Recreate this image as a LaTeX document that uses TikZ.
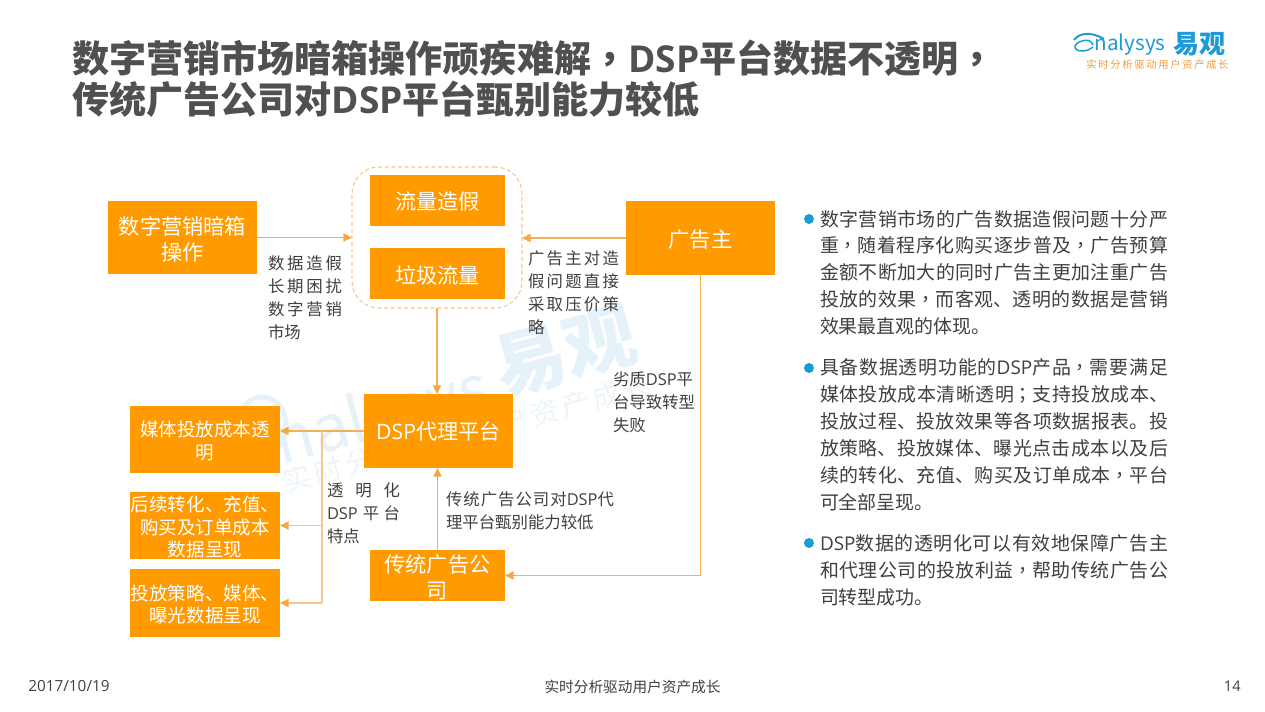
\documentclass[tikz,border=0pt]{standalone}
\usepackage{fontspec}
\usetikzlibrary{arrows.meta,calc}
\setmainfont{Noto Sans CJK SC}
\newfontfamily\lat{Open Sans}
\newfontfamily\tcf{Noto Sans CJK TC}
\newcommand\cm{{\tcf ，}}
\newcommand\sm{{\tcf ；}}
\newcommand\dn[1]{\raisebox{-1.1pt}[\height][\depth]{#1}}
\XeTeXlinebreaklocale "zh"
\XeTeXlinebreakskip=0pt plus 4pt
\tolerance=9999 \hbadness=10000 \hfuzz=3pt
\definecolor{boxc}{HTML}{FF9A00}
\definecolor{linec}{HTML}{F6AE55}
\definecolor{busc}{HTML}{F9C78C}
\definecolor{tipc}{HTML}{F6A83F}
\definecolor{txt}{HTML}{404040}
\definecolor{ttl}{HTML}{505050}
\definecolor{wm}{HTML}{E6F2FA}
\definecolor{wmt}{HTML}{EEF5FA}
\definecolor{logob}{HTML}{1E9AD6}
\definecolor{logoo}{HTML}{F39C3C}
\tikzset{
  x=0.75pt,y=-0.75pt,
  obox/.style={fill=boxc,inner sep=0pt,outer sep=0pt,text=white,align=center},
  big/.style={font=\fontsize{15.9}{19.5}\selectfont},
  small/.style={font=\fontsize{13.9}{17.2}\selectfont},
  arr/.style={draw=linec,line width=1.1pt,-{Triangle[length=6.5pt,width=6pt,color=tipc]}},
  brarr/.style={draw=busc,line width=1.3pt,-{Triangle[length=6.5pt,width=6pt,color=tipc]}},
  plain/.style={draw=busc,line width=1.5pt},
  lbl/.style={anchor=north west,inner sep=0pt,outer sep=0pt,text=txt,align=justify,font=\fontsize{12.3}{17.3}\selectfont},
  para/.style={anchor=north west,inner sep=0pt,outer sep=0pt,text=txt,align=justify,text width=261pt,font=\fontsize{14.2}{20.2}\selectfont},
  dotb/.style={circle,fill=logob,inner sep=0pt,minimum size=7.5pt},
  title/.style={anchor=west,inner sep=0pt,text=ttl,font=\fontsize{27.8}{30}\selectfont\bfseries},
  foot/.style={inner sep=0pt,text=txt,font=\fontsize{11}{13}\selectfont},
  water/.style={inner sep=0pt,text=wm,rotate=15}
}
\begin{document}
\begin{tikzpicture}
\useasboundingbox (0,0) rectangle (1265,712);
\fill[white] (0,0) rectangle (1265,712);
% watermark
\draw[wm,line width=4pt] (262,425) ellipse (24 and 28);
\node[water,font=\fontsize{48}{52}\selectfont\itshape] (wm1) at (383,419) {nalysys};
\node[water,font=\fontsize{54}{60}\selectfont\bfseries] (wm2) at (565,352) {易观};
\node[water,text=wmt,font=\fontsize{21}{26}\selectfont] (wm3) at (467,433) {实\kern3pt 时\kern3pt 分\kern3pt 析\kern3pt 驱\kern3pt 动\kern3pt 用\kern3pt 户\kern3pt 资\kern3pt 产\kern3pt 成\kern3pt 长};
% title
\node[title] (t1) at (72,58) {数字营销市场暗箱操作顽疾难解{\tcf\bfseries ，}{\lat\bfseries DSP}平台数据不透明{\tcf\bfseries ，}};
\node[title] (t2) at (72,99) {传统广告公司对{\lat\bfseries DSP}平台甄别能力较低};
% logo
\draw[logob,line width=1.1pt] (1093,45) .. controls (1090,36) and (1076,42) .. (1075,46) .. controls (1074,52) and (1086,53) .. (1093,47);
\draw[logob,line width=1.5pt] (1074,40) .. controls (1080,32) and (1092,32) .. (1104,39);
\node[inner sep=0pt,text=logob,font=\fontsize{15.5}{17}\selectfont\itshape] (lg1) at (1130,45) {nalysys};
\node[inner sep=0pt,text=logob,font=\fontsize{19.5}{21}\selectfont\bfseries] (lg2) at (1199.5,44.5) {易观};
\node[inner sep=0pt,text=logoo,font=\fontsize{7.7}{9}\selectfont] (lg3) at (1157.5,65) {实\,时\,分\,析\,驱\,动\,用\,户\,资\,产\,成\,长};
% boxes
\node[obox,big,minimum width=149*0.75pt,minimum height=73*0.75pt] (mkt) at (182.5,237.5) {\dn{数字营销暗箱}\\\dn{操作}};
\node[draw=busc,dashed,dash pattern=on 3pt off 2pt,line width=0.8pt,rounded corners=20pt,inner sep=0pt,outer sep=0pt,minimum width=170*0.75pt,minimum height=141*0.75pt] (cloud) at (437,237.5) {};
\node[obox,big,minimum width=135*0.75pt,minimum height=51*0.75pt] (fake) at (437.5,200.5) {\dn{流量造假}};
\node[obox,big,minimum width=135*0.75pt,minimum height=51*0.75pt] (junk) at (437.5,273.5) {\dn{垃圾流量}};
\node[obox,big,minimum width=149*0.75pt,minimum height=74*0.75pt] (adv) at (700.5,238) {\dn{广告主}};
\node[obox,big,minimum width=149*0.75pt,minimum height=74*0.75pt] (dsp) at (438.5,431) {{\lat DSP}代理平台};
\node[obox,small,minimum width=150*0.75pt,minimum height=67*0.75pt] (media) at (205,439.5) {\dn{媒体投放成本透}\\\dn{明}};
\node[obox,small,minimum width=150*0.75pt,minimum height=67*0.75pt] (hq) at (205,525.5) {\dn{后续转化、充值、}\\\dn{购买及订单成本}\\\dn{数据呈现}};
\node[obox,small,minimum width=150*0.75pt,minimum height=68*0.75pt] (tf) at (205,603) {\dn{投放策略、媒体、}\\\dn{曝光数据呈现}};
\node[obox,big,minimum width=135*0.75pt,minimum height=51*0.75pt] (trad) at (437.5,575.5) {\dn{传统广告公}\\\dn{司}};
% connectors
\draw[arr] (mkt.east) -- (mkt.east -| cloud.west);
\draw[arr] (adv.west) -- (adv.west -| cloud.east);
\draw[arr] (cloud.south) -- (cloud.south |- dsp.north);
\draw[arr] (dsp.west) -- ($(dsp.west -| media.east)$);
\coordinate (bus) at (322,431);
\draw[plain] (bus) -- (bus |- tf.east);
\draw[brarr] (bus |- hq.east) -- (hq.east);
\draw[brarr] (bus |- tf.east) -- (tf.east);
\draw[arr] (trad.north) -- (trad.north |- dsp.south);
\draw[arr] (adv.south) |- (trad.east);
% labels
\node[lbl,text width=74*0.75pt] (l1) at (268,255.5) {数据造假\linebreak 长期困扰\linebreak 数字营销\linebreak 市场};
\node[lbl,text width=91*0.75pt] (l2) at (528,250.5) {广告主对造\linebreak 假问题直接\linebreak 采取压价策\linebreak 略};
\node[lbl,text width=90*0.75pt,align=left] (l3) at (613,371.5) {劣质{\lat DSP}平\\台导致转型\\失败};
\node[lbl,text width=168*0.75pt] (l4) at (446,491.5) {传统广告公司对{\lat DSP}代\linebreak 理平台甄别能力较低};
\node[lbl,text width=73*0.75pt] (l5) at (327,482.5) {透明化\linebreak {\lat DSP} 平台\linebreak 特点};
% right text
\node[dotb] (d1) at (809,219) {};
\node[dotb] (d2) at (809,368) {};
\node[dotb] (d3) at (809,543) {};
\node[para] (p1) at (820,210) {数字营销市场的广告数据造假问题十分严\linebreak 重\cm 随着程序化购买逐步普及\cm 广告预算\linebreak 金额不断加大的同时广告主更加注重广告\linebreak 投放的效果\cm 而客观、透明的数据是营销\linebreak 效果最直观的体现。};
\node[para] (p2) at (820,359) {具备数据透明功能的{\lat DSP}产品\cm 需要满足\linebreak 媒体投放成本清晰透明\sm 支持投放成本、\linebreak 投放过程、投放效果等各项数据报表。投\linebreak 放策略、投放媒体、曝光点击成本以及后\linebreak 续的转化、充值、购买及订单成本\cm 平台\linebreak 可全部呈现。};
\node[para] (p3) at (820,535) {{\lat DSP}数据的透明化可以有效地保障广告主\linebreak 和代理公司的投放利益\cm 帮助传统广告公\linebreak 司转型成功。};
% footer
\node[foot,anchor=west] (f1) at (28,686) {\fontsize{11.5}{13}\selectfont\lat 2017/10/19};
\node[foot] (f2) at (632.5,687) {实时分析驱动用户资产成长};
\node[foot,anchor=east] (f3) at (1241,686) {\lat 14};
\end{tikzpicture}
\end{document}
